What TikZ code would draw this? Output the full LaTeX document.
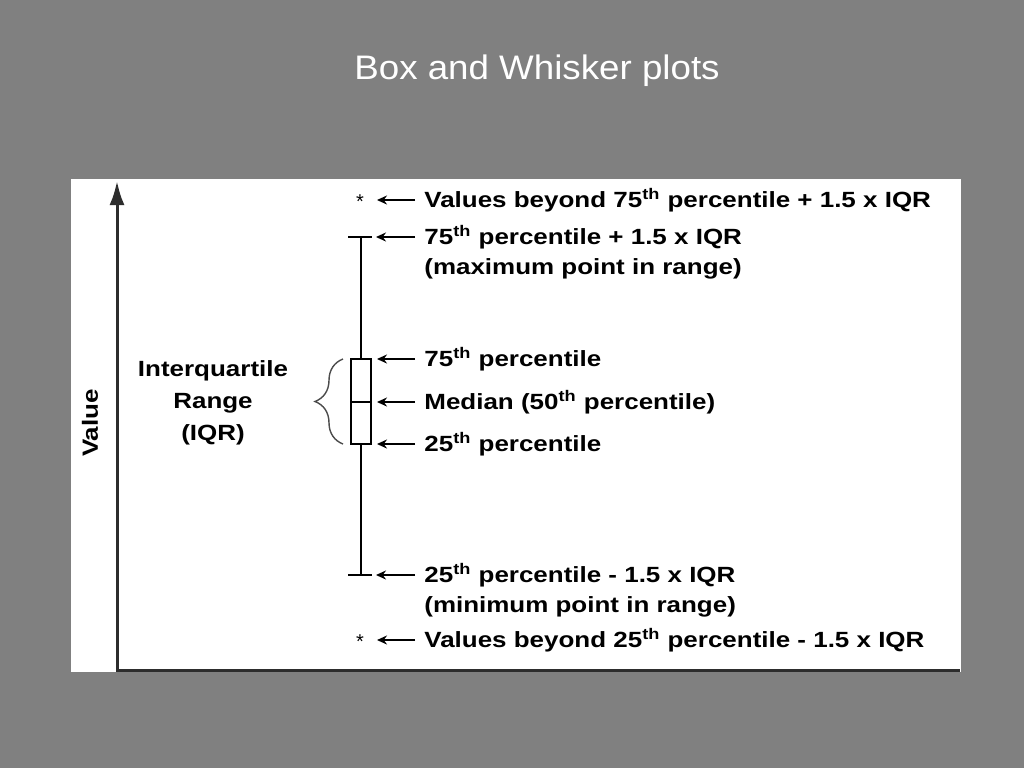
\documentclass[tikz,border=0pt]{standalone}
\usepackage{fontspec}
\setmainfont{Liberation Sans}
\newfontfamily\labfont[FakeStretch=1.18]{Liberation Sans}
\newfontfamily\titlefont[FakeStretch=1.08]{Liberation Sans}
\usepackage{tikz}
\usetikzlibrary{positioning}
\usetikzlibrary{arrows.meta}
\usetikzlibrary{decorations.pathreplacing}
\definecolor{slidegray}{RGB}{128,128,128}
\definecolor{inkgray}{RGB}{45,45,45}
\tikzset{
lab/.style={anchor=west, inner sep=0pt, text height=9pt, text depth=2pt,
  font=\labfont\bfseries\fontsize{11}{13}\selectfont},
sidelab/.style={inner sep=0pt, align=center,
  font=\labfont\bfseries\fontsize{11}{16}\selectfont},
ptr/.style={-{Stealth[length=5pt,width=4.5pt]}, line width=1.1pt, shorten <=4.5pt},
star/.style={anchor=base, inner sep=0pt, font=\fontsize{10}{10}\selectfont},
plotline/.style={line width=1.3pt},
}

\begin{document}
\begin{tikzpicture}[x=0.5pt,y=-0.5pt]
\fill[slidegray] (0,0) rectangle (1024,768);
\fill[white] (71,179) rectangle (961,672);
\node[font=\titlefont\fontsize{17}{20}\selectfont, text=white, anchor=base] (title) at (537,79) {Box and Whisker plots};
% axis
\draw[inkgray, line width=1.5pt, -{Latex[length=12pt,width=7.5pt]}] (960,670) -- (117,670) -- (117,181);
\node[sidelab, rotate=90] (value) at (90,423) {Value};
% box and whiskers
\draw[plotline] (348,237) -- (372,237);
\draw[plotline] (361,237) -- (361,359);
\draw[plotline] (361,444) -- (361,575);
\draw[plotline] (348,575) -- (372,575);
\draw[plotline] (351,359) rectangle (371,444);
\draw[plotline] (351,402) -- (371,402);
\node[star] (hiout) at (360,208) {*};
\node[star] (loout) at (360,648) {*};
% brace
\draw[black!70, line width=0.7pt, decorate, decoration={brace, amplitude=14pt}] (343,444) -- (343,359);
\node[sidelab] (iqr) at (213,403) {Interquartile\\Range\\(IQR)};
% labels
\node[lab] (whi) at (424,200) {Values beyond 75\textsuperscript{th} percentile + 1.5 x IQR};
\node[lab] (wmax) at (424,237) {75\textsuperscript{th} percentile + 1.5 x IQR};
\node[lab, below right=4pt and 0pt of wmax.south west] (wmaxnote) {(maximum point in range)};
\node[lab] (q3) at (424,359) {75\textsuperscript{th} percentile};
\node[lab] (med) at (424,402) {Median (50\textsuperscript{th} percentile)};
\node[lab] (q1) at (424,444) {25\textsuperscript{th} percentile};
\node[lab] (wmin) at (424,575) {25\textsuperscript{th} percentile - 1.5 x IQR};
\node[lab, below right=4pt and 0pt of wmin.south west] (wminnote) {(minimum point in range)};
\node[lab] (wlo) at (424,640) {Values beyond 25\textsuperscript{th} percentile - 1.5 x IQR};
% arrow tips
\coordinate (hitip) at (377,200);
\coordinate (maxtip) at (376,237);
\coordinate (q3tip) at (377,359);
\coordinate (medtip) at (377,402);
\coordinate (q1tip) at (377,444);
\coordinate (mintip) at (376,575);
\coordinate (lotip) at (377,640);
\draw[ptr] (whi.west) -- (hitip);
\draw[ptr] (wmax.west) -- (maxtip);
\draw[ptr] (q3.west) -- (q3tip);
\draw[ptr] (med.west) -- (medtip);
\draw[ptr] (q1.west) -- (q1tip);
\draw[ptr] (wmin.west) -- (mintip);
\draw[ptr] (wlo.west) -- (lotip);
\end{tikzpicture}
\end{document}
